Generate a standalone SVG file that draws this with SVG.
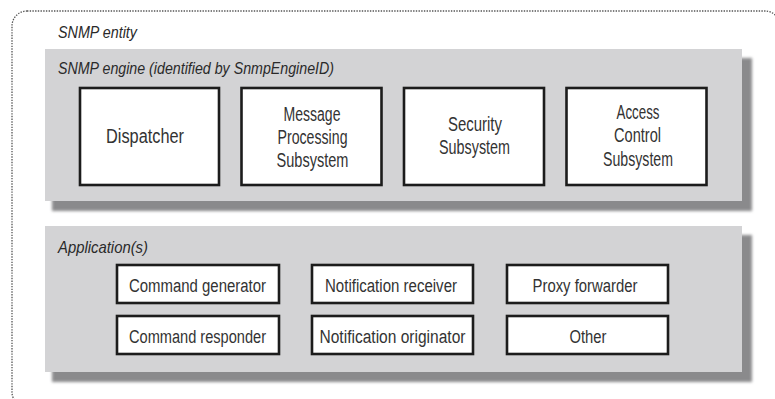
<svg xmlns="http://www.w3.org/2000/svg" width="775" height="399" viewBox="0 0 775 399">
<defs>
<filter id="blur" x="-5%" y="-5%" width="110%" height="110%"><feGaussianBlur stdDeviation="1.5"/></filter>
<style>
.outer{fill:none;stroke:#555;stroke-width:1.3;stroke-dasharray:1.4 1.3}
.panel{fill:#d3d3d5}
.shadow{fill:#8a8a8c}
.box{fill:#ffffff;stroke:#1c1c1c;stroke-width:2.6}
.lbl{font-family:"Liberation Sans",Arial,sans-serif;font-style:italic;font-size:16.5px;fill:#2a2a2a}
.t{font-family:"Liberation Sans",Arial,sans-serif;font-size:19.5px;fill:#333;text-anchor:middle}
.s{font-family:"Liberation Sans",Arial,sans-serif;font-size:18px;fill:#333;text-anchor:middle}
</style>
</defs>
<rect width="775" height="399" fill="#ffffff"/>
<g id="entity">
<rect class="outer" x="12" y="11" width="768" height="396" rx="15"/>
<text class="lbl" x="58" y="37.5" textLength="79" lengthAdjust="spacingAndGlyphs">SNMP entity</text>
</g>
<g id="engine">
<rect class="shadow" x="52" y="58" width="700" height="153" filter="url(#blur)"/>
<rect class="panel" x="45" y="49" width="697" height="152"/>
<text class="lbl" x="58" y="73.5" textLength="276" lengthAdjust="spacingAndGlyphs">SNMP engine (identified by SnmpEngineID)</text>
</g>
<g id="dispatcher">
<rect class="box" x="80" y="88" width="139" height="97"/>
<text class="t" x="145" y="143" textLength="78" lengthAdjust="spacingAndGlyphs">Dispatcher</text>
</g>
<g id="mps">
<rect class="box" x="241.5" y="88" width="140" height="97"/>
<text class="t" x="312" y="120.5" textLength="57" lengthAdjust="spacingAndGlyphs">Message</text>
<text class="t" x="312.5" y="143.5" textLength="70" lengthAdjust="spacingAndGlyphs">Processing</text>
<text class="t" x="312.5" y="166.5" textLength="72" lengthAdjust="spacingAndGlyphs">Subsystem</text>
</g>
<g id="security">
<rect class="box" x="404" y="88" width="140" height="97"/>
<text class="t" x="475" y="131" textLength="54" lengthAdjust="spacingAndGlyphs">Security</text>
<text class="t" x="474.5" y="154" textLength="71" lengthAdjust="spacingAndGlyphs">Subsystem</text>
</g>
<g id="access">
<rect class="box" x="566.5" y="88" width="140" height="97"/>
<text class="t" x="638" y="118.5" textLength="43" lengthAdjust="spacingAndGlyphs">Access</text>
<text class="t" x="637.5" y="141.5" textLength="47" lengthAdjust="spacingAndGlyphs">Control</text>
<text class="t" x="638" y="165.5" textLength="70" lengthAdjust="spacingAndGlyphs">Subsystem</text>
</g>
<g id="applications">
<rect class="shadow" x="52" y="235" width="700" height="147" filter="url(#blur)"/>
<rect class="panel" x="45" y="226" width="697" height="146"/>
<text class="lbl" x="58" y="252.5" textLength="90" lengthAdjust="spacingAndGlyphs">Application(s)</text>
</g>
<g id="cmdgen">
<rect class="box" x="117" y="265" width="162" height="38"/>
<text class="s" x="197.5" y="292" textLength="137" lengthAdjust="spacingAndGlyphs">Command generator</text>
</g>
<g id="cmdresp">
<rect class="box" x="117" y="316" width="162" height="38"/>
<text class="s" x="197.5" y="343" textLength="137" lengthAdjust="spacingAndGlyphs">Command responder</text>
</g>
<g id="notrecv">
<rect class="box" x="312" y="265" width="161" height="38"/>
<text class="s" x="391" y="292" textLength="132" lengthAdjust="spacingAndGlyphs">Notification receiver</text>
</g>
<g id="notorig">
<rect class="box" x="312" y="316" width="161" height="38"/>
<text class="s" x="392.5" y="343" textLength="146" lengthAdjust="spacingAndGlyphs">Notification originator</text>
</g>
<g id="proxy">
<rect class="box" x="507" y="265" width="161" height="38"/>
<text class="s" x="585" y="292" textLength="105" lengthAdjust="spacingAndGlyphs">Proxy forwarder</text>
</g>
<g id="other">
<rect class="box" x="507" y="316" width="161" height="38"/>
<text class="s" x="588" y="343" textLength="37" lengthAdjust="spacingAndGlyphs">Other</text>
</g>
<g id="connectors"></g>
</svg>
